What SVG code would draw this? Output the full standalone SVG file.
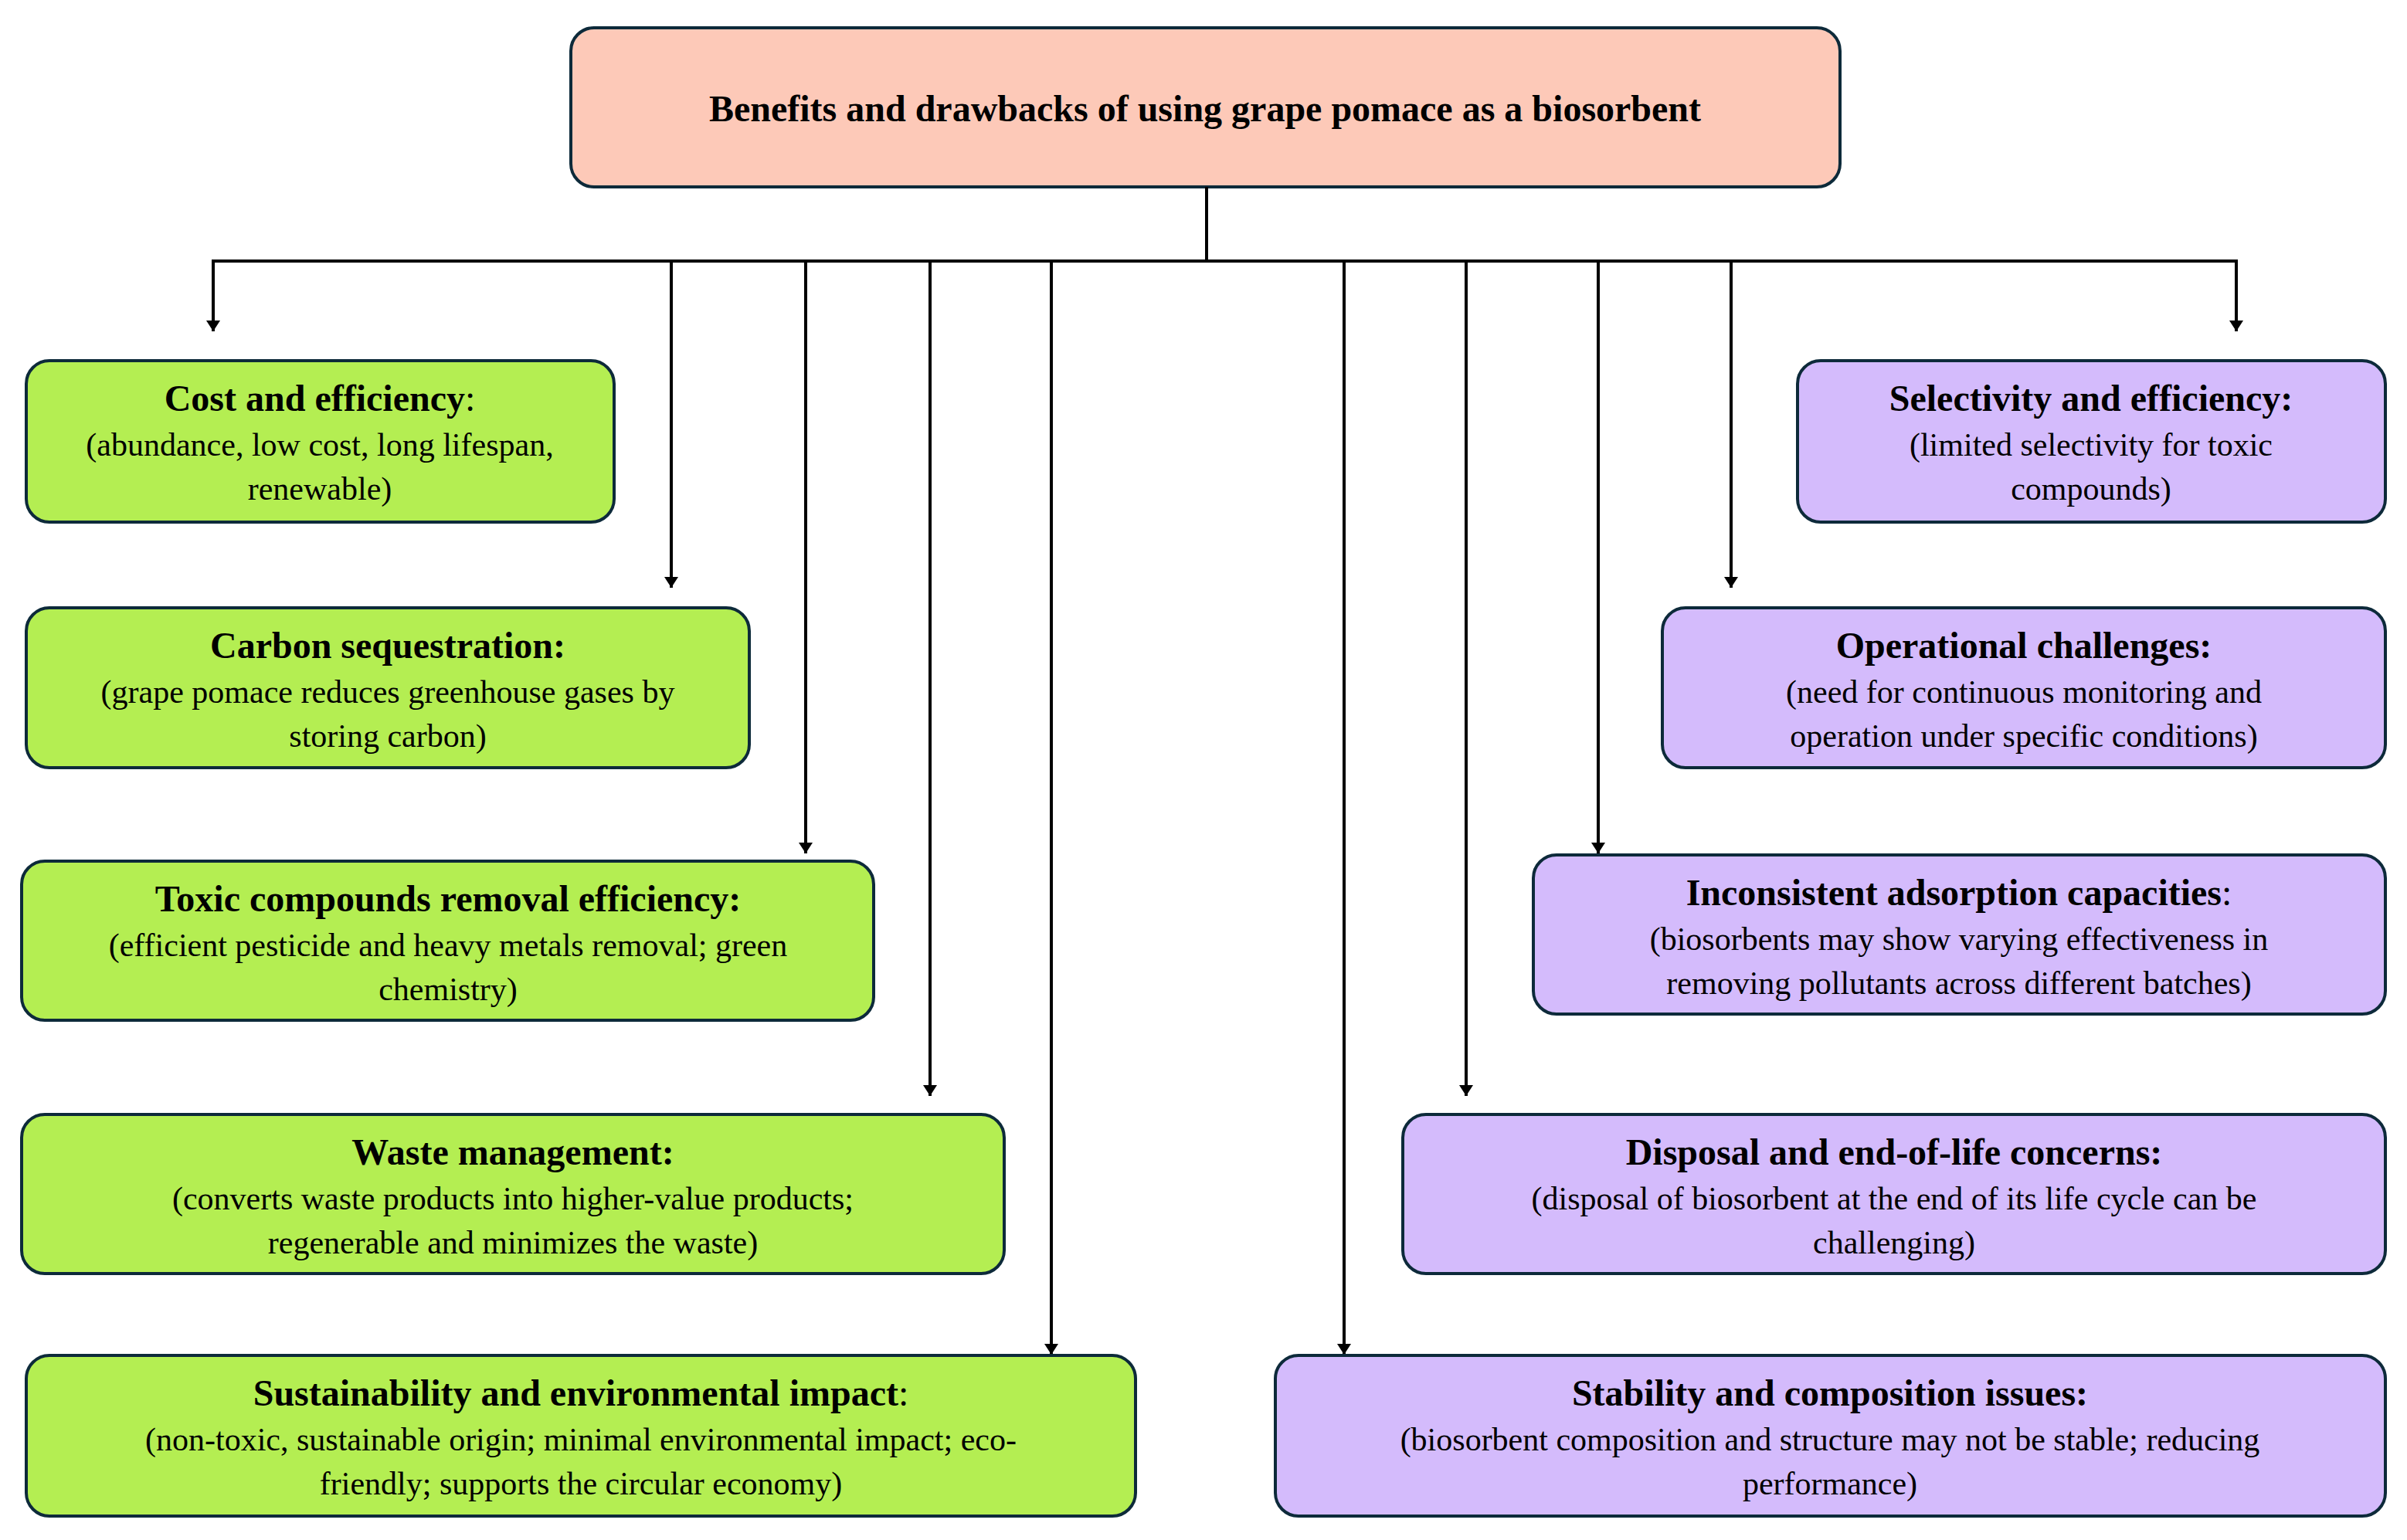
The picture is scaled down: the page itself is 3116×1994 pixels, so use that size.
<svg xmlns="http://www.w3.org/2000/svg" width="3116" height="1994" viewBox="0 0 3116 1994">
<style>
.g{fill:#b4ee52;stroke:#0d2a3a;stroke-width:4}
.p{fill:#d4bbfc;stroke:#0d2a3a;stroke-width:4}
.t{fill:#fdc9b8;stroke:#0d2a3a;stroke-width:4}
text{font-family:"Liberation Serif","Times New Roman",serif;fill:#000;text-anchor:middle}
.h{font-size:48px;font-weight:bold}
.b{font-size:42px}
.n{font-weight:normal}
.c line,.c path{stroke:#000;stroke-width:4;fill:none}
</style>
<defs><marker id="a" markerWidth="8" markerHeight="8" refX="4" refY="8" orient="auto" markerUnits="userSpaceOnUse" viewBox="0 0 8 8"><path d="M0,0 L8,0 L4,8Z" fill="#000"/></marker>
<marker id="ar" viewBox="0 0 10 10" refX="10" refY="5" markerWidth="14" markerHeight="18" orient="auto" markerUnits="userSpaceOnUse" preserveAspectRatio="none"><path d="M0,0 L10,5 L0,10Z" fill="#000"/></marker></defs>
<g id="title"><rect class="t" x="739" y="36" width="1643" height="206" rx="30"/><text class="h" x="1560" y="157">Benefits and drawbacks of using grape pomace as a biosorbent</text></g>
<g class="c" id="connectors">
<line x1="1562" y1="242" x2="1562" y2="338"/>
<line x1="274" y1="338" x2="2897" y2="338"/>
<line x1="276" y1="338" x2="276" y2="429" marker-end="url(#ar)"/>
<line x1="869" y1="338" x2="869" y2="761" marker-end="url(#ar)"/>
<line x1="1043" y1="338" x2="1043" y2="1105" marker-end="url(#ar)"/>
<line x1="1204" y1="338" x2="1204" y2="1419" marker-end="url(#ar)"/>
<line x1="1361" y1="338" x2="1361" y2="1754" marker-end="url(#ar)"/>
<line x1="1740" y1="338" x2="1740" y2="1754" marker-end="url(#ar)"/>
<line x1="1898" y1="338" x2="1898" y2="1419" marker-end="url(#ar)"/>
<line x1="2069" y1="338" x2="2069" y2="1105" marker-end="url(#ar)"/>
<line x1="2241" y1="338" x2="2241" y2="761" marker-end="url(#ar)"/>
<line x1="2895" y1="338" x2="2895" y2="429" marker-end="url(#ar)"/>
</g>
<g id="g1"><rect class="g" x="34" y="467" width="761" height="209" rx="30"/><text class="h" x="414" y="532">Cost and efficiency<tspan class="n">:</tspan></text><text class="b" x="414" y="590">(abundance, low cost, long lifespan,</text><text class="b" x="414" y="647">renewable)</text></g>
<g id="g2"><rect class="g" x="34" y="787" width="936" height="207" rx="30"/><text class="h" x="502" y="852">Carbon sequestration:</text><text class="b" x="502" y="910">(grape pomace reduces greenhouse gases by</text><text class="b" x="502" y="967">storing carbon)</text></g>
<g id="g3"><rect class="g" x="28" y="1115" width="1103" height="206" rx="30"/><text class="h" x="580" y="1180">Toxic compounds removal efficiency:</text><text class="b" x="580" y="1238">(efficient pesticide and heavy metals removal; green</text><text class="b" x="580" y="1295">chemistry)</text></g>
<g id="g4"><rect class="g" x="28" y="1443" width="1272" height="206" rx="30"/><text class="h" x="664" y="1508">Waste management:</text><text class="b" x="664" y="1566">(converts waste products into higher-value products;</text><text class="b" x="664" y="1623">regenerable and minimizes the waste)</text></g>
<g id="g5"><rect class="g" x="34" y="1755" width="1436" height="208" rx="30"/><text class="h" x="752" y="1820">Sustainability and environmental impact<tspan class="n">:</tspan></text><text class="b" x="752" y="1878">(non-toxic, sustainable origin; minimal environmental impact; eco-</text><text class="b" x="752" y="1935">friendly; supports the circular economy)</text></g>
<g id="p1"><rect class="p" x="2327" y="467" width="761" height="209" rx="30"/><text class="h" x="2707" y="532">Selectivity and efficiency:</text><text class="b" x="2707" y="590">(limited selectivity for toxic</text><text class="b" x="2707" y="647">compounds)</text></g>
<g id="p2"><rect class="p" x="2152" y="787" width="936" height="207" rx="30"/><text class="h" x="2620" y="852">Operational challenges:</text><text class="b" x="2620" y="910">(need for continuous monitoring and</text><text class="b" x="2620" y="967">operation under specific conditions)</text></g>
<g id="p3"><rect class="p" x="1985" y="1107" width="1103" height="206" rx="30"/><text class="h" x="2536" y="1172">Inconsistent adsorption capacities<tspan class="n">:</tspan></text><text class="b" x="2536" y="1230">(biosorbents may show varying effectiveness in</text><text class="b" x="2536" y="1287">removing pollutants across different batches)</text></g>
<g id="p4"><rect class="p" x="1816" y="1443" width="1272" height="206" rx="30"/><text class="h" x="2452" y="1508">Disposal and end-of-life concerns:</text><text class="b" x="2452" y="1566">(disposal of biosorbent at the end of its life cycle can be</text><text class="b" x="2452" y="1623">challenging)</text></g>
<g id="p5"><rect class="p" x="1651" y="1755" width="1437" height="208" rx="30"/><text class="h" x="2369" y="1820">Stability and composition issues:</text><text class="b" x="2369" y="1878">(biosorbent composition and structure may not be stable; reducing</text><text class="b" x="2369" y="1935">performance)</text></g>
</svg>
